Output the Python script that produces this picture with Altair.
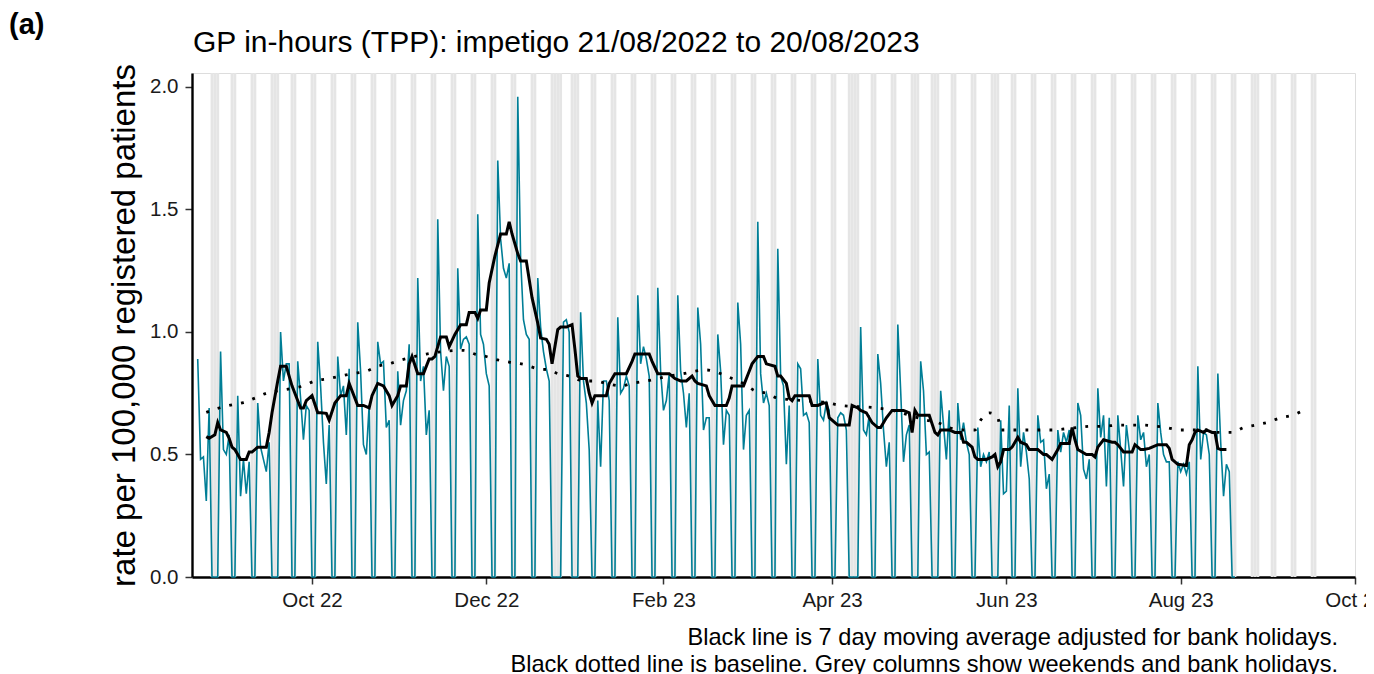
import altair as alt
import pandas as pd

FONT = "Liberation Sans"

# ---------------- data ----------------
DAY0 = "2022-08-20"          # day offsets below are counted from this date
FIRST_DAY = "2022-08-22"
LAST_DAY = "2023-08-20"

# weekday rates per week (weekends / bank holidays are zero)
weekly_rates = [
    [0.89, 0.48, 0.49, 0.31, 0.69],
    [0.92, 0.52, 0.50, 0.58],
    [0.74, 0.33, 0.48, 0.34, 0.47],
    [0.71, 0.53, 0.48, 0.43, 0.55],
    [1.00, 0.80, 0.87, 0.87],
    [0.88, 0.73, 0.56, 0.70, 0.68],
    [0.96, 0.78, 0.55, 0.38, 0.62],
    [0.90, 0.74, 0.78, 0.58, 0.85],
    [1.04, 0.84, 0.54, 0.50, 0.70],
    [0.96, 0.87, 0.88, 0.61, 0.64],
    [0.84, 0.62, 0.72, 0.76, 0.95],
    [1.22, 0.80, 0.86, 0.58, 0.68],
    [1.46, 0.92, 0.76, 0.90, 0.86],
    [1.26, 0.93, 0.97, 0.98, 0.95],
    [1.48, 0.99, 0.95, 0.83, 0.78],
    [1.70, 1.38, 1.26, 1.22, 1.28],
    [1.96, 1.30, 1.05, 0.99, 0.97],
    [1.22, 1.02, 0.92, 0.85, 0.80],
    [1.04, 1.05, 1.00],
    [1.08, 0.80, 0.71, 0.52],
    [0.72, 0.45, 0.80, 0.80, 0.72],
    [1.06, 0.75, 0.77, 0.82, 0.78],
    [1.15, 0.87, 0.94, 0.89, 0.82],
    [1.18, 0.84, 0.68, 0.72, 0.83],
    [1.15, 0.84, 0.75, 0.61, 0.75],
    [1.10, 0.95, 0.60, 0.65, 0.65],
    [0.99, 0.84, 0.54, 0.68, 0.66],
    [1.12, 0.95, 0.52, 0.66, 0.68],
    [1.45, 0.83, 0.71, 0.75, 0.70],
    [1.34, 0.82, 0.78, 0.46, 0.70],
    [0.87, 0.85, 0.66, 0.67, 0.63],
    [0.89, 0.66, 0.64, 0.71, 0.68],
    [0.65, 0.67, 0.66, 0.60],
    [1.02, 0.60, 0.58, 0.66],
    [0.91, 0.79, 0.60, 0.45, 0.55],
    [1.03, 0.76, 0.47, 0.58, 0.62],
    [0.88, 0.76, 0.50, 0.51],
    [0.76, 0.62, 0.48, 0.68],
    [0.71, 0.56, 0.63, 0.55, 0.50],
    [0.61, 0.45, 0.50, 0.47, 0.51],
    [0.64, 0.34, 0.35, 0.70],
    [0.77, 0.45, 0.59, 0.51, 0.40],
    [0.66, 0.55, 0.56, 0.36, 0.42],
    [0.60, 0.51, 0.59, 0.55, 0.60],
    [0.71, 0.66, 0.44, 0.40, 0.48],
    [0.77, 0.57, 0.66, 0.37, 0.65],
    [0.66, 0.52, 0.37, 0.62, 0.52],
    [0.66, 0.56, 0.59, 0.45, 0.50],
    [0.71, 0.59, 0.50, 0.47, 0.47],
    [0.47, 0.43, 0.46, 0.42, 0.47],
    [0.86, 0.48, 0.59, 0.58, 0.50],
    [0.83, 0.55, 0.33, 0.46, 0.43],
]

bank_holidays = ["2022-08-29", "2022-09-19", "2022-12-26", "2022-12-27",
                 "2023-01-02", "2023-04-07", "2023-04-10", "2023-05-01",
                 "2023-05-08", "2023-05-29", "2023-08-28"]
GREY_FROM = "2022-08-27"
GREY_TO = "2023-09-17"

# 7 day moving average (day offset from DAY0, rate)
ma_day = [5, 6, 8, 9, 10, 12, 13, 14, 15, 17, 19, 20, 21, 23, 26, 27, 28, 30, 31, 33, 34, 35, 36, 38, 39, 40,
          42, 44, 45, 47, 48, 50, 52, 54, 55, 56, 58, 60, 62, 63, 65, 67, 69, 70, 72, 73, 75, 76, 77, 79, 81, 83,
          84, 85, 87, 89, 90, 92, 94, 96, 97, 99, 100, 101, 103, 104, 106, 108, 110, 111, 112, 114, 115, 117, 119, 121, 122, 124,
          125, 126, 128, 129, 131, 133, 134, 135, 136, 138, 139, 140, 141, 145, 146, 148, 152, 154, 155, 160, 161, 163, 166,
          167, 169, 171, 173, 175, 176, 177, 180, 181, 183, 187, 188, 189, 193, 195, 196, 198, 200, 201, 204, 205, 206, 208,
          209, 210, 211, 216, 217, 219, 221, 222, 223, 225, 226, 230, 231, 233, 234, 236, 238, 240, 241, 243, 245, 249,
          251, 252, 253, 254, 258, 260, 261, 262, 265, 267, 269, 270, 271, 273, 274, 275, 278, 280, 281, 282, 283, 284,
          286, 287, 289, 290, 292, 293,
          294, 296, 298, 299, 301, 303, 304, 307, 308, 309, 310, 313, 315, 316, 317, 319, 322, 323, 324, 326, 329, 330,
          332, 333, 335, 336, 338, 341, 342, 343, 345, 348, 349, 350, 351, 352, 354, 355, 357, 358, 359, 360, 362]
ma_rate = [0.573, 0.566, 0.58, 0.63, 0.60, 0.59, 0.566, 0.53, 0.52, 0.48, 0.48, 0.51, 0.51, 0.53, 0.53, 0.59, 0.67, 0.80, 0.86, 0.86, 0.82, 0.78, 0.75, 0.69, 0.69, 0.72,
           0.74, 0.67, 0.67, 0.668, 0.64, 0.71, 0.74, 0.74, 0.79, 0.76, 0.70, 0.70, 0.69, 0.74, 0.79, 0.78, 0.74, 0.70, 0.74, 0.78, 0.78, 0.87, 0.90, 0.83, 0.83, 0.89,
           0.89, 0.90, 0.98, 0.98, 0.94, 0.99, 1.03, 1.03, 1.08, 1.08, 1.056, 1.09, 1.09, 1.20, 1.31, 1.40, 1.40, 1.45, 1.40, 1.32, 1.29, 1.29, 1.14, 1.036, 0.975, 0.97,
           0.95, 0.87, 1.01, 1.02, 1.02, 1.03, 0.93, 0.82, 0.81, 0.81, 0.75, 0.71, 0.74, 0.74, 0.79, 0.83, 0.83, 0.88, 0.91, 0.91, 0.88, 0.83, 0.83,
           0.83, 0.81, 0.80, 0.80, 0.82, 0.80, 0.79, 0.78, 0.74, 0.70, 0.70, 0.73, 0.78, 0.78, 0.84, 0.87, 0.90, 0.90, 0.87, 0.86, 0.82, 0.82, 0.79,
           0.73, 0.72, 0.74, 0.74, 0.70, 0.70, 0.71, 0.71, 0.65, 0.63, 0.62, 0.62, 0.70, 0.69, 0.68, 0.67, 0.63, 0.61, 0.61, 0.65, 0.68, 0.68,
           0.67, 0.59, 0.68, 0.66, 0.66, 0.59, 0.58, 0.60, 0.60, 0.59, 0.59, 0.55, 0.55, 0.53, 0.49, 0.48, 0.48, 0.49, 0.50, 0.45, 0.47, 0.52,
           0.52, 0.53, 0.57, 0.55, 0.54, 0.52,
           0.52, 0.52, 0.50, 0.50, 0.48, 0.52, 0.545, 0.545, 0.61, 0.56, 0.52, 0.50, 0.50, 0.49, 0.53, 0.56, 0.55, 0.55, 0.54, 0.51, 0.51, 0.54,
           0.52, 0.52, 0.525, 0.53, 0.54, 0.54, 0.525, 0.48, 0.46, 0.455, 0.54, 0.56, 0.59, 0.60, 0.59, 0.60, 0.59, 0.59, 0.525, 0.52, 0.52]

# baseline (day offset from DAY0, rate)
base_day = [5, 9, 13, 18, 22, 26, 30, 35, 39, 43, 48, 52, 56, 61, 65, 69, 73, 82, 95, 99, 103, 107, 112, 116, 121,
            125, 128, 132, 137, 141, 145, 150, 154, 159, 163, 167, 172, 176, 180, 185, 189, 193, 197, 201, 205, 214,
            223, 227, 240, 245, 257, 261, 265, 270, 274, 276, 279, 282, 283, 288, 292, 296, 301, 306, 310, 315, 319,
            324, 328, 333, 337, 341, 346, 350, 355, 359, 364, 368, 372, 376, 381, 385, 389]
base_rate = [0.672, 0.688, 0.70, 0.712, 0.73, 0.75, 0.76, 0.77, 0.78, 0.80, 0.81, 0.82, 0.83, 0.84, 0.86, 0.87, 0.885, 0.91, 0.925, 0.91, 0.90, 0.886, 0.875, 0.868, 0.85,
             0.845, 0.83, 0.82, 0.80, 0.80, 0.79, 0.78, 0.79, 0.80, 0.81, 0.82, 0.83, 0.84, 0.845, 0.83, 0.81, 0.79, 0.76, 0.75, 0.73, 0.72,
             0.71, 0.70, 0.69, 0.68, 0.64, 0.63, 0.61, 0.60, 0.60, 0.64, 0.67, 0.65, 0.60, 0.60, 0.60, 0.60, 0.60, 0.605, 0.61, 0.615, 0.615,
             0.62, 0.62, 0.62, 0.616, 0.61, 0.60, 0.60, 0.60, 0.59, 0.59, 0.61, 0.62, 0.63, 0.65, 0.66, 0.68]

title_text = "GP in-hours (TPP): impetigo 21/08/2022 to 20/08/2023"
panel_text = "(a)"
y_title = "rate per 100,000 registered patients"
footer_1 = "Black line is 7 day moving average adjusted for bank holidays."
footer_2 = "Black dotted line is baseline. Grey columns show weekends and bank holidays."
tick_months = [(2022, 10), (2022, 12), (2023, 2), (2023, 4), (2023, 6), (2023, 8), (2023, 10)]

# ---------------- tables ----------------
def iso(ts):
    return ts.strftime("%Y-%m-%dT%H:%M:%SZ")

bh = set(pd.to_datetime(bank_holidays))
flat = [v for wk in weekly_rates for v in wk]
it = iter(flat)
rows = []
for d in pd.date_range(FIRST_DAY, LAST_DAY, freq="D"):
    if d.weekday() >= 5 or d in bh:
        rows.append({"date": iso(d), "rate": 0.0})
    else:
        rows.append({"date": iso(d), "rate": next(it)})
daily = pd.DataFrame(rows)

grey_rows = []
for d in pd.date_range(GREY_FROM, GREY_TO, freq="D"):
    if d.weekday() >= 5 or d in bh:
        grey_rows.append({"start": iso(d - pd.Timedelta(hours=12)),
                          "end": iso(d + pd.Timedelta(hours=12))})
grey = pd.DataFrame(grey_rows)

d0 = pd.Timestamp(DAY0)
ma = pd.DataFrame({"date": [iso(d0 + pd.Timedelta(days=k)) for k in ma_day], "rate": ma_rate})
base = pd.DataFrame({"date": [iso(d0 + pd.Timedelta(days=k)) for k in base_day], "rate": base_rate})

# ---------------- chart ----------------
W, H = 1163, 504
Y_TOP = 2.057

xscale = alt.Scale(type="utc", domain=[alt.DateTime(year=2022, month=8, date=20, utc=True),
                                        alt.DateTime(year=2023, month=10, date=1, utc=True)])
yscale = alt.Scale(domain=[0, Y_TOP], nice=False, zero=True)

xaxis = alt.Axis(values=[alt.DateTime(year=y, month=m, date=1, utc=True) for y, m in tick_months],
                 format="%b %y", title=None, grid=False, domainColor="black", domainWidth=2.4,
                 tickColor="#333333", tickWidth=1.5, tickSize=7, labelFontSize=20.5, labelFont=FONT,
                 labelColor="#1a1a1a", labelPadding=6, labelOverlap=False, labelFlush=False)
yaxis = alt.Axis(values=[0, 0.5, 1.0, 1.5, 2.0], format=".1f", title=y_title, grid=False,
                 domainColor="black", domainWidth=2.4, tickColor="#333333", tickWidth=1.5, tickSize=7,
                 labelFontSize=20.5, labelFont=FONT, labelColor="#1a1a1a", labelPadding=7,
                 titleFont=FONT, titleFontSize=33, titleFontWeight="normal", titleColor="black",
                 titlePadding=8)

grey_layer = alt.Chart(grey).mark_rect(color="#e5e5e5").encode(
    x=alt.X("start:T", scale=xscale, axis=xaxis),
    x2="end:T",
    y=alt.Y(datum=0, scale=yscale, axis=yaxis),
    y2=alt.datum(Y_TOP),
)

teal = alt.Chart(daily).mark_line(color="#007E96", strokeWidth=1.6).encode(
    x=alt.X("date:T", scale=xscale), y=alt.Y("rate:Q", scale=yscale))

base_layer = alt.Chart(base).mark_line(color="black", strokeWidth=2.8, strokeDash=[2.8, 9.2],
                                        interpolate="monotone").encode(
    x=alt.X("date:T", scale=xscale), y=alt.Y("rate:Q", scale=yscale))

ma_layer = alt.Chart(ma).mark_line(color="black", strokeWidth=3).encode(
    x=alt.X("date:T", scale=xscale), y=alt.Y("rate:Q", scale=yscale))


def label(text, x, y, size, align="left", weight="normal"):
    return alt.Chart(pd.DataFrame({"t": [text]})).mark_text(
        align=align, baseline="alphabetic", fontSize=size, fontWeight=weight, font=FONT,
        color="black").encode(x=alt.value(x), y=alt.value(y), text="t:N")


chart = alt.layer(
    grey_layer, teal, base_layer, ma_layer,
    label(title_text, 1, -21, 30),
    label(panel_text, -183, -39, 29, weight="bold"),
    label(footer_1, 1146, 572, 23.6, align="right"),
    label(footer_2, 1146, 599, 23.6, align="right"),
).properties(
    width=W, height=H,
    autosize=alt.AutoSizeParams(type="none"),
    padding={"left": 184, "top": 65, "right": 11, "bottom": 97},
).configure_view(stroke=None).configure(background="white")

chart.save("out.html", embed_options={"renderer": "svg", "actions": False})
